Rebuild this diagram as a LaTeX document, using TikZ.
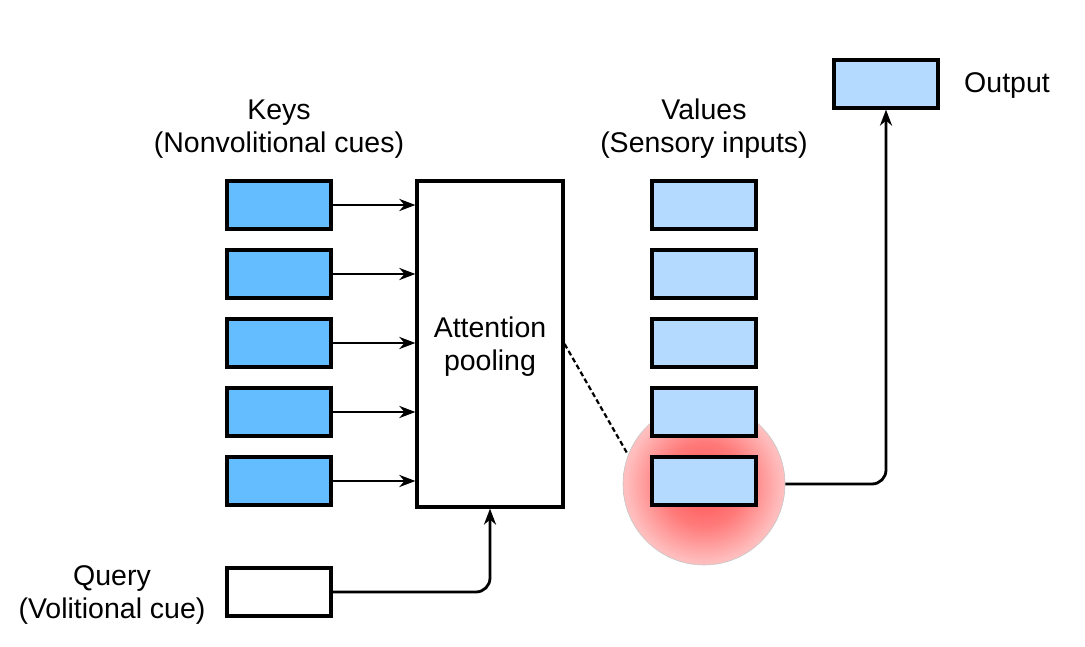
\documentclass[tikz,border=0pt]{standalone}
\usepackage{fontspec}
\setmainfont{Liberation Sans}
\usetikzlibrary{shapes,arrows.meta,calc}
\definecolor{keyblue}{RGB}{99,189,255}
\definecolor{valblue}{RGB}{180,218,255}
\pgfdeclareradialshading{glow}{\pgfpoint{0bp}{0bp}}{color(0bp)=(red!70); color(13bp)=(red!52); color(24bp)=(red!26); color(36bp)=(red!10); color(45bp)=(red!3); color(50bp)=(white)}
\tikzstyle{line} = [draw, line width=2.8pt, -{Stealth[length=16pt,width=12pt,inset=5pt]}]
\tikzstyle{block} = [draw, rectangle, line width=3.2pt, minimum width=104pt, minimum height=48pt]
\tikzstyle{keybox} = [block, fill=keyblue]
\tikzstyle{valbox} = [block, fill=valblue]
\tikzstyle{caption} = [text centered, align=center, font=\fontsize{28.5}{33}\selectfont]

\begin{document}
\begin{tikzpicture}[x=1pt, y=-1pt, node distance=69pt, auto]
        \useasboundingbox (0,0) rectangle (1085,647);
        \node[keybox] (k1) at (279,205) {};
        \node[keybox, below of=k1] (k2) {};
        \node[keybox, below of=k2] (k3) {};
        \node[keybox, below of=k3] (k4) {};
        \node[keybox, below of=k4] (k5) {};
        \node[block, caption, minimum width=146pt, minimum height=326pt] (att) at (490,344) {};
        \node[caption] (attlabel) at (490,347) {Attention\\pooling};
        \node[circle, minimum size=162pt, shade, shading=glow, draw=gray!45, line width=0.6pt] (focus) at (704,484) {};
        \node[valbox] (v1) at (704,205) {};
        \node[valbox, below of=v1] (v2) {};
        \node[valbox, below of=v2] (v3) {};
        \node[valbox, below of=v3] (v4) {};
        \node[valbox, below of=v4] (v5) {};
        \node[valbox] (out) at (886,84) {};
        \node[block] (query) at (279,592) {};
        \node[caption] (keys) at (279,129) {Keys\\(Nonvolitional cues)};
        \node[caption] (values) at (704,129) {Values\\(Sensory inputs)};
        \node[caption] (outlabel) at (1007,86) {Output};
        \node[caption] (querylabel) at (112,595) {Query\\(Volitional cue)};
        \path[line] (k1.east) -- (k1.east -| att.west);
        \path[line] (k2.east) -- (k2.east -| att.west);
        \path[line] (k3.east) -- (k3.east -| att.west);
        \path[line] (k4.east) -- (k4.east -| att.west);
        \path[line] (k5.east) -- (k5.east -| att.west);
        \path[line, rounded corners=14pt] (query.east) -| (att.south);
        \path[line, rounded corners=14pt] (focus.east) -| (out.south);
        \draw[line width=2.2pt, dash pattern=on 5pt off 3pt] (att.east) -- (focus.159);
    \end{tikzpicture}
\end{document}
